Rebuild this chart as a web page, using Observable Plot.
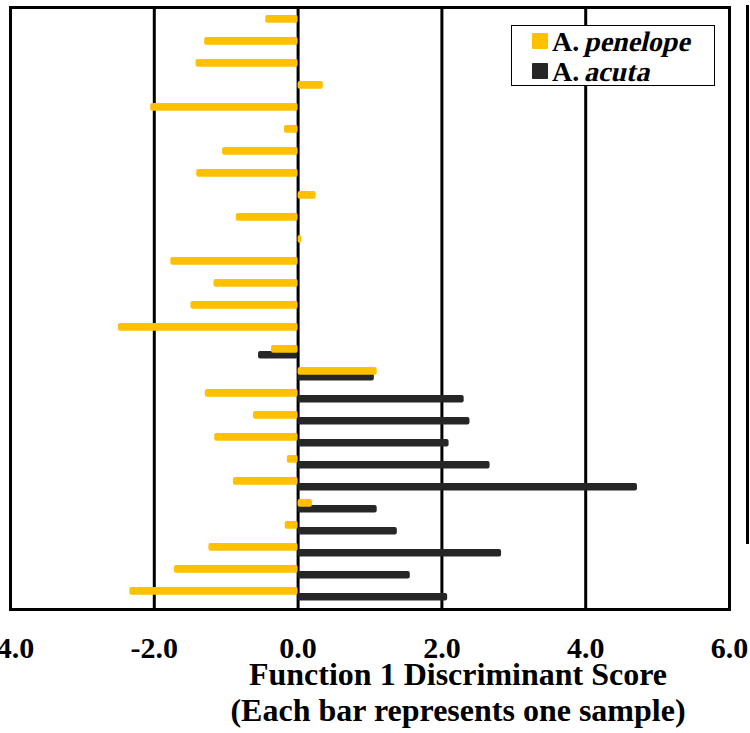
<!DOCTYPE html>
<html>
<head>
<meta charset="utf-8">
<script src="https://cdn.jsdelivr.net/npm/d3@7"></script>
<script src="https://cdn.jsdelivr.net/npm/@observablehq/plot@0.6"></script>
<style>
  body { margin: 0; background: #fff; }
  #wrap { position: relative; width: 750px; height: 733px; overflow: hidden; }
  #wrap svg text { font-family: "Liberation Serif", "Times New Roman", serif; font-weight: bold; fill: #000; }
  .legend { position: absolute; left: 511px; top: 25px; width: 202px; height: 59px; border: 1.5px solid #000; background: #fff;
            font-family: "Liberation Serif", "Times New Roman", serif; font-weight: bold; font-size: 28px; line-height: 31px; }
  .legend .row { display: flex; align-items: center; height: 30px; padding-left: 20px; }
  .legend .sw { width: 16px; height: 16px; margin-right: 4px; border-radius: 1px; }
  .legend .it { display: inline-block; transform: skewX(-13deg); font-style: normal; }
  .stray { position: absolute; left: 746px; top: 5px; width: 3px; height: 539px; background: #000; }
</style>
</head>
<body>
<div id="wrap"></div>
<script>
// sample index (one bar pair per sample, top to bottom)
const samples = d3.range(1, 28);
// Function 1 discriminant scores, A. penelope
const penelope = [-0.45, -1.30, -1.42, 0.35, -2.05, -0.19, -1.05, -1.41, 0.25, -0.86,
                  0.05, -1.77, -1.17, -1.49, -2.50, -0.37, 1.10, -1.29, -0.62, -1.16,
                  -0.15, -0.90, 0.20, -0.18, -1.24, -1.72, -2.34];
// Function 1 discriminant scores, A. acuta (null = no bar)
const acuta = [null, null, null, null, null, null, null, null, null, null,
               null, null, null, null, null, -0.55, 1.06, 2.31, 2.39, 2.10,
               2.67, 4.72, 1.10, 1.38, 2.83, 1.56, 2.08];
const xTicks = [-4, -2, 0, 2, 4, 6];
const gridValues = [-2, 0, 2, 4];
const seriesNames = ["A. penelope", "A. acuta"];
const seriesColors = ["#FFC000", "#262626"];
const axisTitle = "Function 1 Discriminant Score\n(Each bar represents one sample)";

const rows = samples.map((s, i) => ({sample: s, penelope: penelope[i], acuta: acuta[i]}));

const chart = Plot.plot({
  width: 750,
  height: 733,
  marginLeft: 10,
  marginRight: 21,
  marginTop: 7,
  marginBottom: 124,
  x: {domain: [-4, 6]},
  y: {type: "band", domain: samples, padding: 0, axis: null},
  marks: [
    Plot.ruleX(gridValues, {stroke: "#000", strokeWidth: 3}),
    Plot.barX(rows.filter(d => d.acuta != null), {
      x: "acuta", y: "sample", fill: seriesColors[1], insetTop: 10, insetBottom: 4.6, rx: 2
    }),
    Plot.barX(rows, {
      x: "penelope", y: "sample", fill: seriesColors[0], insetTop: 4, insetBottom: 10.3, rx: 2
    }),
    Plot.frame({stroke: "#000", strokeWidth: 3}),
    Plot.axisX({
      ticks: xTicks, tickSize: 0, tickPadding: 27, fontSize: 30,
      tickFormat: d => d.toFixed(1), label: null
    }),
    Plot.text([axisTitle], {
      frameAnchor: "bottom", text: d => d, dx: 88, dy: 111,
      lineAnchor: "bottom", lineHeight: 1.1, fontSize: 32, textAnchor: "middle"
    })
  ]
});

const wrap = document.getElementById("wrap");
wrap.appendChild(chart);

const legend = document.createElement("div");
legend.className = "legend";
seriesNames.forEach((name, i) => {
  const [genus, species] = name.split(" ");
  const row = document.createElement("div");
  row.className = "row";
  row.innerHTML = `<span class="sw" style="background:${seriesColors[i]}"></span><span>${genus}&nbsp;<span class="it">${species}</span></span>`;
  legend.appendChild(row);
});
wrap.appendChild(legend);

const stray = document.createElement("div");
stray.className = "stray";
wrap.appendChild(stray);
</script>
</body>
</html>
